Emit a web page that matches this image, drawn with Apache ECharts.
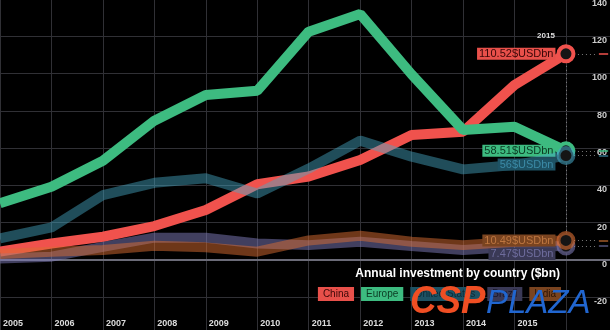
<!DOCTYPE html>
<html>
<head>
<meta charset="utf-8">
<script src="https://cdn.jsdelivr.net/npm/echarts@6/dist/echarts.min.js"></script>
<style>
html,body{margin:0;padding:0;background:#000;}
#chart{width:610px;height:330px;}
</style>
</head>
<body>
<div id="chart"></div>
<script>
// ---- data ----
const years = [2004, 2005, 2006, 2007, 2008, 2009, 2010, 2011, 2012, 2013, 2014, 2015];
const xTickLabels = ['2005', '2006', '2007', '2008', '2009', '2010', '2011', '2012', '2013', '2014', '2015'];
const seriesNames = ['China', 'Europe', 'United States', 'Brazil', 'India'];
const china  = [4.5, 8.9, 12.5, 18.2, 26.8, 40.6, 44.8, 53.6, 67.0, 68.8, 93.8, 110.52];
const europe = [30.5, 39.3, 53.2, 74.7, 88.4, 90.7, 122.4, 131.8, 99.5, 69.7, 71.4, 58.51];
const us     = [11.6, 17.5, 34.8, 41.4, 43.8, 35.7, 49.0, 64.0, 55.4, 48.6, 50.9, 56];
const brazil = [0.8, 1.8, 7.1, 12.0, 12.0, 8.9, 8.0, 9.8, 7.5, 5.4, 7.1, 7.47];
const india  = [3.2, 4.5, 5.4, 7.7, 6.8, 4.5, 10.5, 13.0, 9.8, 8.0, 9.8, 10.49];
const valueUnit = '$USDbn';
const chartTitle = 'Annual investment by country ($bn)';
const yTicks = { min: -40, max: 140, interval: 20 };

// ---- styles ----
const lineColors  = ['#f0524d', '#3dbb80', 'rgba(70,170,200,0.45)', 'rgba(130,125,190,0.5)', 'rgba(220,110,50,0.5)'];
const ringColors  = ['#f0524d', '#3dbb80', 'rgba(70,170,200,0.55)', 'rgba(130,125,190,0.55)', 'rgba(220,110,50,0.6)'];
const dashColors  = ['#f0524d', '#3dbb80', '#2e6f86', '#55547e', '#a05a2a'];
const labelBg     = ['#e8504a', '#3dbb80', '#1d5264', '#3a3956', '#7a4420'];
const labelFg     = ['#3a0707', '#0b3a22', '#3b8aa6', '#6e6c9c', '#bd7640'];
const labelOffset = [[0, 0], [0, 0], [0, 9], [0, 8], [0, 0]];
const legendBg    = ['#e8504a', '#3dbb80', '#1d5264', '#3a3956', '#7a4420'];
const legendFg    = ['#3a0707', '#0b3a22', '#0c2a35', '#15152a', '#2c1405'];
const allValues = [china, europe, us, brazil, india];

const last = years.length - 1;
const xMin = years[0];
const xMax = 2015.856;

const series = allValues.map((arr, s) => {
  const data = years.map((y, i) => {
    if (i !== last) return [y, arr[i]];
    return {
      value: [y, arr[i]],
      symbol: 'circle',
      symbolSize: 15,
      itemStyle: { color: '#151515', borderColor: ringColors[s], borderWidth: 4 },
      label: {
        show: true,
        position: 'left',
        distance: 1,
        offset: labelOffset[s],
        formatter: p => p.value[1] + valueUnit,
        backgroundColor: labelBg[s],
        color: labelFg[s],
        padding: [1, 2, 0, 2],
        fontSize: 11,
        fontFamily: 'Liberation Sans, Arial, sans-serif'
      }
    };
  });
  const v = arr[last];
  const mlData = [
    [{ coord: [years[last], v], lineStyle: { color: '#777', type: [1, 3], width: 1 } }, { coord: [2015.6, v] }],
    [{ coord: [2015.64, v], lineStyle: { color: dashColors[s], type: 'solid', width: 1.5 } }, { coord: [2015.82, v] }]
  ];
  if (s === 0) {
    mlData.push([{ coord: [years[last], china[last]], lineStyle: { color: '#888', type: [1, 3], width: 1 } }, { coord: [years[last], india[last]] }]);
    mlData.push([{ coord: [xMin, 0], lineStyle: { color: '#6b6b78', type: 'solid', width: 2 } }, { coord: [xMax, 0] }]);
  }
  return {
    name: seriesNames[s],
    type: 'line',
    data: data,
    symbol: 'none',
    showSymbol: true,
    lineStyle: { color: lineColors[s], width: 10 },
    itemStyle: { color: lineColors[s] },
    emphasis: { disabled: true },
    z: 2 + s,
    markLine: {
      silent: true,
      symbol: ['none', 'none'],
      label: { show: false },
      animation: false,
      z: 1,
      data: mlData
    }
  };
});

const chart = echarts.init(document.getElementById('chart'), null, { renderer: 'canvas' });
chart.setOption({
  backgroundColor: '#000',
  animation: false,
  title: {
    text: chartTitle,
    right: 50,
    top: 268,
    padding: 0,
    textStyle: { color: '#fff', fontSize: 12, fontWeight: 'bold', fontFamily: 'Liberation Sans, Arial, sans-serif' }
  },
  legend: {
    right: 49,
    top: 287,
    padding: 0,
    icon: 'none',
    itemWidth: 0,
    itemHeight: 0,
    itemGap: 2,
    selectedMode: false,
    data: seriesNames.map((n, i) => ({
      name: n,
      textStyle: { backgroundColor: legendBg[i], color: legendFg[i], padding: [2, 5, 2, 5], fontSize: 10, fontFamily: 'Liberation Sans, Arial, sans-serif' }
    }))
  },
  grid: { left: 0, right: 0, top: -1.2, bottom: -4.7, containLabel: false, outerBoundsMode: 'none' },
  xAxis: {
    type: 'value',
    min: xMin,
    max: xMax,
    interval: 1,
    axisLine: { show: false },
    axisTick: { show: false },
    splitLine: { show: true, lineStyle: { color: '#303035', width: 1 } },
    axisLabel: {
      inside: true,
      margin: 11,
      showMaxLabel: false,
      align: 'left',
      verticalAlign: 'middle',
      padding: [0, 0, 0, 3],
      color: '#ddd',
      fontSize: 9,
      fontWeight: 'bold',
      fontFamily: 'Liberation Sans, Arial, sans-serif',
      formatter: v => xTickLabels[v - xMin] || ''
    }
  },
  yAxis: {
    type: 'value',
    position: 'right',
    min: yTicks.min,
    max: yTicks.max,
    interval: yTicks.interval,
    axisLine: { show: false },
    axisTick: { show: false },
    splitLine: { show: true, lineStyle: { color: '#303035', width: 1 } },
    axisLabel: {
      inside: true,
      margin: 3,
      showMinLabel: false,
      verticalAlign: 'top',
      color: '#ccc',
      fontSize: 9,
      fontWeight: 'bold',
      fontFamily: 'Liberation Sans, Arial, sans-serif'
    }
  },
  graphic: [
    { type: 'text', x: 546, y: 36, z: 100, style: { text: String(years[last]), fill: '#ddd', font: 'bold 8px "Liberation Sans", Arial, sans-serif', align: 'center', verticalAlign: 'middle' } },
    { type: 'text', x: 410, y: 283, z: 100, style: { text: 'CSP', fill: '#f04e23', font: 'italic 900 39px "Liberation Sans", Arial, sans-serif' }, scaleX: 0.94 },
    { type: 'text', x: 486, y: 287, z: 100, style: { text: 'PLAZA', fill: '#2166d0', font: 'italic 33px "Liberation Sans", Arial, sans-serif' } }
  ],
  series: series
});
</script>
</body>
</html>
